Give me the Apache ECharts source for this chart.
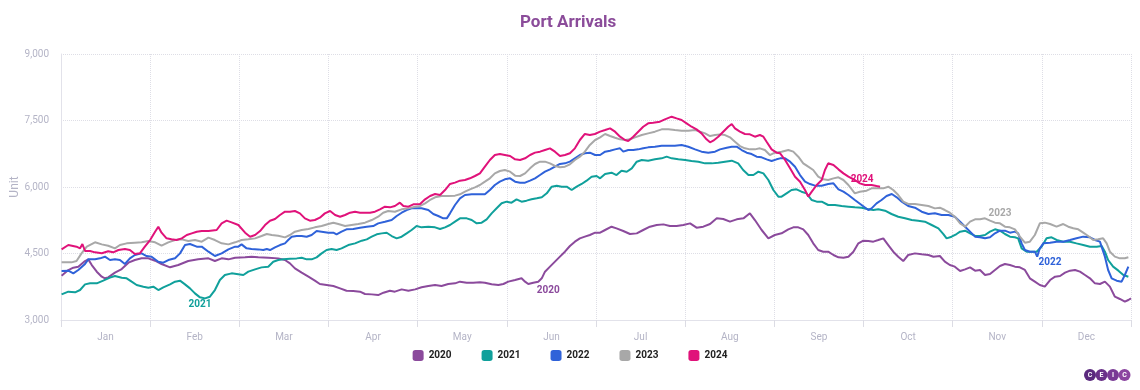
<!DOCTYPE html>
<html>
<head>
<meta charset="utf-8">
<script src="https://cdn.jsdelivr.net/npm/echarts@6/dist/echarts.min.js"></script>
<style>
  html, body { margin: 0; padding: 0; background: #ffffff; }
  #chart { width: 1140px; height: 390px; }
</style>
</head>
<body>
<div id="chart"></div>
<script>
// ---- DATA (day of year, value) ----
const months = ['Jan','Feb','Mar','Apr','May','Jun','Jul','Aug','Sep','Oct','Nov','Dec'];
const yTicks = { min: 3000, max: 9000, step: 1500 };
const seriesNames = ['2020','2021','2022','2023','2024'];

const y2020 = [[0.2,4000],[2.5,4127],[4.2,4180],[5.9,4202],[8.2,4330],[9.3,4368],[10.5,4240],[12.2,4090],[13.9,3977],[15,3940],[16.1,3962],[18.4,4067],[20.7,4150],[23,4293],[25.2,4353],[27.5,4391],[29.8,4391],[32.1,4338],[34.3,4263],[37.2,4188],[40,4240],[43.4,4330],[46.8,4368],[50.3,4391],[52.5,4330],[54.8,4391],[57.1,4368],[59.4,4406],
[62.8,4413],[65,4428],[67.3,4413],[70.7,4405],[74.1,4390],[76.4,4353],[78.1,4278],[79.8,4165],[82.1,4067],[84.4,3977],[86.6,3887],[88.3,3811],[90.6,3789],[92.9,3766],[95.2,3714],[97.4,3661],[99.7,3654],[102,3639],[103.7,3586],[106,3578],[108.2,3563],[110,3616],[112.2,3661],[113.9,3639],[116.2,3691],[118.5,3661],[120.8,3691],
[123,3737],[125.3,3767],[127.6,3790],[129.8,3767],[132.1,3812],[134.4,3827],[136.1,3865],[138.4,3842],[140.6,3842],[142.9,3850],[144.6,3842],[146.9,3805],[149.2,3790],[150.9,3812],[152.6,3865],[154.9,3902],[157.1,3940],[158.3,3865],[159.4,3812],[161.1,3842],[162.8,3865],[164,3940],[165.1,4090],[166.8,4203],[168.5,4316],[170.2,4429],[171.9,4541],[173.6,4669],[175.3,4767],[177,4842],[178.7,4880],[180.4,4917],[182.2,4970],
[183.9,4969],[185.6,5030],[187.8,5105],[189.5,5067],[191.8,5007],[194.1,4939],[196.4,4954],[198.6,5030],[200.9,5105],[203.2,5142],[205.5,5157],[207.7,5120],[210,5120],[212.3,5142],[214.6,5180],[216.8,5082],[219.1,5105],[221.4,5165],[223.7,5293],[225.9,5278],[228.2,5218],[230.5,5270],[232.8,5293],[235,5406],[236.7,5255],[239,5030],[241.3,4842],[243.5,4917],
[245.8,4955],[248.1,5045],[249.8,5090],[251.5,5090],[253.2,5045],[254.9,4917],[256.6,4729],[258.3,4579],[260,4541],[261.7,4541],[263.5,4466],[265.2,4413],[266.9,4406],[268.6,4428],[270.3,4541],[272,4729],[273.7,4789],[275.4,4782],[277.1,4767],[278.8,4804],[280.5,4842],[282.2,4691],[283.9,4541],[285.6,4428],[287.3,4330],[289,4466],[291.3,4503],[293.6,4481],[295.9,4466],[297.6,4428],[299.8,4443],[301.5,4315],[303.2,4240],[304.9,4203],[306.7,4105],
[308.4,4143],[310.1,4188],[311.8,4113],[313.5,4128],[315.2,4015],[316.9,4038],[318.6,4128],[320.3,4218],[322,4263],[323.7,4241],[325.4,4203],[327.1,4188],[328.8,4128],[330.5,3940],[332.2,3865],[333.9,3790],[335.6,3752],[337.4,3902],[339.1,3977],[340.8,3993],[342.5,4068],[344.2,4113],[345.9,4128],[347.6,4090],[349.3,4015],[351,3940],[352.7,3827],[354.4,3812],[356.1,3865],[357.8,3752],[359.5,3526],[361.2,3474],[362.9,3414],[364.1,3451],[365,3489]];

const y2021 = [[0.2,3579],[2.5,3639],[4.8,3624],[6.5,3676],[8.2,3804],[9.9,3827],[12.2,3827],[14.4,3887],[16.7,3955],[18.4,3992],[20.7,3955],[22.4,3940],[24.1,3864],[25.8,3789],[28.1,3752],[29.8,3729],[31.5,3752],[33.2,3676],[34.9,3737],[37.2,3804],[38.9,3864],[40.6,3887],[42.3,3804],[44,3714],[45.7,3601],[47.4,3511],[49.1,3488],[50.8,3526],[52.5,3676],[54.2,3902],[55.9,4015],[58.2,4052],[59.9,4037],
[62.2,4014],[63.9,4090],[66.2,4142],[68.4,4187],[70.7,4202],[72.4,4315],[74.1,4353],[75.8,4368],[78.1,4383],[80.4,4390],[82.1,4405],[83.8,4368],[85.5,4368],[87.2,4413],[88.9,4503],[90.6,4578],[92.3,4601],[94,4578],[95.7,4616],[98,4691],[100.3,4729],[102.6,4789],[104.3,4819],[106,4879],[107.7,4932],[109.4,4954],[111.1,4969],[112.8,4894],[114.5,4841],[116.2,4879],[117.9,4954],[119.6,5030],[121.3,5120],
[123,5090],[125.3,5105],[127.6,5090],[129.3,5053],[131,5090],[132.7,5143],[134.4,5218],[136.1,5293],[138.4,5293],[140.1,5256],[141.8,5180],[143.5,5195],[145.2,5271],[146.9,5406],[148.6,5519],[150.3,5632],[152,5669],[153.7,5647],[155.4,5722],[157.1,5669],[158.8,5692],[160.5,5722],[162.3,5744],[164,5767],[165.7,5857],[167.4,6008],[169.1,6030],[170.8,6008],[172.5,6008],[174.2,5932],[175.9,6008],[177.6,6068],[179.3,6143],[181,6233],[182.7,6248],
[183.9,6195],[185.6,6293],[187.8,6323],[189.5,6270],[191.2,6368],[193,6345],[194.7,6421],[196.4,6571],[198.1,6609],[200.3,6594],[202.6,6624],[204.9,6646],[206.6,6684],[208.3,6646],[210.6,6624],[212.9,6609],[215.1,6586],[217.4,6571],[219.7,6533],[222,6533],[224.2,6548],[226.5,6571],[228.8,6594],[231,6533],[232.7,6383],[234.5,6270],[236.2,6270],[237.9,6345],[239.6,6308],[241.3,6158],[243,5932],[244.7,5781],
[245.8,5782],[247.5,5857],[249.2,5932],[250.9,5947],[252.6,5894],[254.3,5857],[256.1,5706],[257.8,5669],[259.5,5669],[261.7,5594],[264,5594],[266.3,5571],[268.6,5556],[270.8,5541],[273.1,5533],[275.4,5496],[277.1,5481],[278.8,5496],[281.1,5466],[283.3,5391],[285.6,5330],[287.9,5293],[290.2,5255],[292.4,5240],[294.7,5218],[297,5143],[299.3,5067],[301,4939],[302.1,4842],[303.8,4879],[305.5,4939],
[306.7,4993],[308.4,5015],[310.1,4955],[311.8,4895],[313.5,4895],[315.2,4917],[316.9,4993],[318.6,5045],[320.3,5015],[322,4940],[323.7,4880],[325.4,4865],[326.5,4842],[327.7,4617],[329.4,4541],[331.1,4541],[332.8,4541],[334.5,4654],[336.2,4842],[337.9,4865],[339.6,4805],[341.9,4767],[344.2,4767],[346.4,4729],[348.7,4692],[351,4654],[353.3,4654],[355,4669],[356.1,4541],[357.2,4353],[358.9,4203],[360.7,4113],[362.4,4015],[364.1,3977]];

const y2022 = [[0.2,4105],[2.5,4112],[4.2,4052],[5.9,4127],[8.2,4263],[9.3,4368],[11.6,4368],[13.3,4391],[15,4428],[16.7,4353],[18.4,4368],[20.1,4353],[21.8,4263],[23.5,4391],[25.2,4466],[27.5,4503],[29.2,4443],[30.9,4428],[33.2,4315],[34.9,4293],[36.6,4353],[38.9,4391],[40.6,4503],[42.3,4691],[44,4714],[46.3,4654],[48,4654],[50.3,4541],[52.5,4443],[54.8,4503],[57.1,4594],[59.4,4654],
[60.5,4654],[61.6,4706],[63.3,4616],[65,4601],[67.3,4593],[69,4578],[70.2,4601],[71.3,4578],[73,4638],[74.7,4691],[76.4,4729],[77.5,4804],[78.7,4879],[80.4,4894],[82.1,4894],[83.8,4879],[85.5,4917],[87.2,5007],[88.9,4992],[91.2,4969],[92.9,4969],[94,4932],[95.7,4992],[97.4,5045],[99.7,5052],[102,5082],[104.3,5105],[106.5,5120],[108.2,5180],[110.5,5217],[112.8,5255],[114.5,5345],[116.2,5420],[117.9,5481],[119.6,5518],
[123,5519],[125.3,5481],[127,5391],[128.7,5346],[130.4,5293],[131.6,5293],[132.7,5406],[134.4,5594],[136.1,5744],[137.8,5820],[140.1,5835],[142.4,5835],[144.6,5835],[146.3,5932],[148,6045],[149.7,6120],[151.4,6173],[153.2,6196],[154.9,6120],[156.6,6098],[158.3,6098],[160,6143],[161.7,6196],[163.4,6271],[165.1,6346],[166.8,6399],[168.5,6459],[170.2,6519],[171.9,6534],[173.6,6572],[175.3,6647],[177,6722],[178.7,6760],[180.4,6775],[182.2,6722],
[183.9,6721],[185.6,6797],[187.3,6819],[189,6849],[190.7,6872],[191.8,6797],[193.5,6834],[195.2,6834],[196.9,6849],[198.6,6872],[200.3,6894],[202.6,6909],[204.9,6932],[207.2,6932],[209.4,6932],[211.7,6947],[214,6909],[216.3,6849],[218.5,6797],[220.8,6774],[223.1,6797],[224.8,6849],[227.1,6887],[228.8,6909],[230.5,6909],[232.2,6834],[233.9,6774],[235.6,6744],[237.3,6684],[239,6669],[240.7,6624],[242.4,6586],[244.1,6624],
[245.3,6646],[247,6646],[248.7,6571],[250.4,6458],[252.1,6270],[253.8,6120],[255.5,6067],[257.2,6030],[259.5,6030],[261.7,6067],[263.5,6082],[265.2,5947],[266.9,5894],[268.6,5819],[270.8,5706],[273.1,5594],[275.4,5481],[276.5,5518],[278.2,5631],[279.9,5706],[281.6,5797],[283.4,5842],[285.1,5767],[286.8,5669],[289,5571],[291.3,5533],[293.6,5443],[295.9,5391],[298.1,5406],[300.4,5368],[302.7,5368],[304.9,5330],
[306.7,5218],[308.4,5105],[310.1,4993],[311.8,4880],[313.5,4865],[315.2,4842],[316.9,4865],[318.6,4955],[320.3,5015],[322,5015],[323.7,4970],[325.4,4993],[326.5,4955],[327.7,4729],[328.8,4579],[330.5,4541],[332.2,4541],[333,4429],[333.9,4617],[335.1,4729],[337.4,4744],[339.6,4767],[341.9,4767],[344.2,4805],[346.4,4842],[348.7,4880],[351,4865],[352.7,4805],[354.4,4767],[356.1,4429],[357.2,4128],[358.4,3940],[360.1,3887],[361.8,3865],[362.9,4015],[364.1,4203]];

const y2023 = [[0.2,4300],[3.6,4300],[5.3,4330],[7,4503],[8.8,4654],[11.6,4752],[13.9,4706],[16.1,4676],[18.4,4616],[20.1,4691],[22.4,4729],[25.2,4744],[27.5,4752],[29.8,4782],[32.1,4752],[34.3,4676],[36.6,4752],[38.9,4804],[41.2,4819],[43.4,4782],[45.7,4804],[48,4767],[50.3,4857],[52.5,4804],[54.8,4729],[57.1,4706],[59.4,4752],
[61.6,4804],[63.9,4819],[66.2,4841],[68.4,4894],[70.2,4939],[71.9,4917],[74.1,4902],[76.4,4864],[78.1,4917],[79.8,4992],[82.1,5030],[84.4,5052],[86.6,5090],[88.9,5120],[91.2,5165],[92.9,5195],[94.6,5165],[96.9,5120],[99.1,5142],[101.4,5165],[103.7,5195],[106,5255],[108.2,5330],[109.9,5420],[111.6,5458],[113.9,5443],[116.2,5496],[118.5,5518],[120.8,5556],
[122.5,5572],[124.2,5632],[125.9,5707],[127.6,5767],[129.8,5797],[132.1,5797],[134.4,5805],[136.1,5835],[137.8,5895],[139.5,5947],[141.2,5993],[142.9,6045],[144.6,6120],[146.3,6196],[148,6308],[149.7,6361],[151.4,6384],[153.2,6346],[154.9,6256],[156.6,6248],[158.3,6308],[160,6421],[161.7,6519],[163.4,6572],[165.1,6572],[166.8,6534],[168.5,6474],[170.2,6444],[171.9,6459],[173.6,6511],[175.3,6609],[177,6684],[178.7,6797],[180.4,6948],[182.2,7060],
[183.9,7120],[185.6,7195],[187.3,7150],[189,7112],[190.7,7075],[192.4,7060],[194.1,7075],[195.8,7120],[198.1,7172],[200.3,7210],[202.6,7248],[204.9,7300],[207.2,7300],[209.4,7285],[211.7,7270],[214,7270],[216.3,7285],[218,7248],[219.7,7210],[221.4,7150],[223.1,7172],[224.8,7187],[226.5,7172],[228.2,7120],[229.9,7022],[231.6,6924],[233.3,6872],[235,6849],[236.7,6849],[238.4,6872],[240.1,6834],[241.8,6721],[243.5,6774],
[245.8,6797],[248.1,6834],[249.8,6797],[251.5,6684],[253.2,6534],[254.9,6458],[256.6,6383],[258.3,6233],[260,6173],[261.7,6158],[263.5,6195],[265.2,6218],[266.9,6158],[268.6,6045],[270.8,5857],[272.5,5894],[274.8,5917],[276.5,5970],[278.8,5970],[280.5,5970],[282.2,6007],[283.9,5932],[285.6,5819],[287.3,5669],[289,5616],[291.3,5616],[293.6,5594],[295.9,5571],[298.1,5518],[299.8,5533],[301.5,5481],[303.2,5421],[304.9,5330],
[306.7,5181],[308.4,5105],[310.1,5218],[311.8,5271],[313.5,5271],[315.2,5293],[316.9,5241],[318.6,5196],[320.3,5181],[322,5105],[323.7,5090],[325.4,5045],[327.1,4880],[328.8,4744],[330.5,4767],[332.2,4917],[333.9,5181],[335.6,5196],[337.4,5165],[339.6,5105],[341.9,5165],[343.6,5105],[345.3,5068],[347,5045],[348.7,4970],[350.4,4895],[352.1,4805],[353.8,4820],[355.5,4842],[356.7,4729],[357.8,4541],[359.5,4429],[361.2,4391],[362.9,4391],[364.1,4414]];

const y2024 = [[0.2,4594],[2.5,4692],[5.3,4654],[6.5,4617],[7.3,4714],[8.2,4556],[9.9,4556],[11.6,4526],[13.9,4504],[16.1,4549],[17.8,4526],[19.6,4579],[21.8,4601],[23.5,4579],[25.2,4489],[26.9,4504],[28.6,4654],[30.4,4804],[32.1,4992],[33.2,5105],[34.3,4970],[36,4842],[37.7,4820],[39.4,4804],[41.2,4842],[42.9,4917],[44.6,4955],[46.3,4992],[48,5007],[50.3,5007],[53.1,5030],[54.8,5180],[56.5,5241],[58.2,5203],[60.5,5143],
[61.1,5120],[62.8,4969],[64.5,4879],[66.2,4917],[67.9,5007],[69.6,5142],[71.3,5240],[73,5278],[74.7,5368],[76.4,5443],[78.1,5443],[79.8,5458],[81.5,5405],[83.2,5293],[84.9,5240],[86.6,5255],[88.3,5308],[90,5405],[91.8,5458],[93.5,5368],[95.2,5330],[96.9,5368],[98.6,5420],[100.3,5443],[102,5420],[103.7,5420],[105.4,5420],[107.1,5443],[108.8,5496],[110.5,5556],[112.2,5541],[113.9,5571],[115.6,5646],[116.8,5571],[118.5,5556],[120.2,5609],
[122.5,5617],[124.2,5722],[125.9,5797],[127.6,5842],[129.3,5820],[131,5932],[132.7,6068],[134.4,6098],[136.1,6143],[137.8,6158],[139.5,6196],[141.2,6248],[142.9,6308],[144.6,6459],[146.3,6609],[148,6722],[149.7,6744],[151.4,6722],[153.2,6699],[154.9,6624],[156.6,6609],[158.3,6647],[160,6722],[161.7,6775],[163.4,6797],[165.1,6835],[166.8,6872],[168.5,6797],[170.2,6699],[171.9,6722],[173.6,6760],[175.3,6872],[177,7060],[178.7,7196],[180.4,7173],[182.1,7196],[183.9,7248],
[185.6,7285],[187.3,7323],[189,7248],[190.7,7135],[192.4,7060],[193.5,7037],[195.2,7135],[196.9,7248],[198.6,7360],[200.3,7436],[202,7451],[204.3,7473],[206,7526],[208.3,7586],[210,7548],[211.7,7511],[213.4,7436],[215.1,7360],[216.8,7300],[218.5,7210],[220.2,7075],[221.4,7007],[222.5,7045],[224.2,7135],[225.9,7248],[227.6,7360],[228.8,7421],[229.9,7323],[231.6,7248],[233.3,7195],[235,7188],[236.7,7135],[238.4,7173],[239.6,7135],[240.7,7022],[242.4,6849],[244.1,6774],
[245.3,6759],[247,6609],[248.7,6421],[250.4,6233],[252.1,6120],[253.8,5932],[254.9,5782],[256.1,5894],[257.8,6045],[259.5,6158],[260.6,6383],[261.7,6534],[263.5,6496],[265.2,6398],[266.9,6308],[268.6,6233],[270.8,6158],[272.5,6082],[274.3,6045],[276.5,6045],[278.2,6022],[279.4,6007]];

// inline label anchors: series name and the day of year it sits at
const lineLabels = [
  { name: '2021', day: 47.4, pos: 'bottom', dist: 2, off: [0, 0] },
  { name: '2020', day: 162.8, pos: 'bottom', dist: 4, off: [10, 0] },
  { name: '2024', day: 274.3, pos: 'top', dist: 0, off: [-3, 0] },
  { name: '2023', day: 320.3, pos: 'top', dist: 5, off: [0, 0] },
  { name: '2022', day: 337.4, pos: 'bottom', dist: 15, off: [0, 0] }
];

const colors = { '2020': '#8B4A9C', '2021': '#10A09B', '2022': '#2F62D9', '2023': '#A8A8A8', '2024': '#E0127A' };
const dataBy = { '2020': y2020, '2021': y2021, '2022': y2022, '2023': y2023, '2024': y2024 };
const FONT = 'Roboto, "Noto Sans", sans-serif';

function markFor(name) {
  const lab = lineLabels.find(l => l.name === name);
  if (!lab) return undefined;
  const pt = dataBy[name].find(p => p[0] === lab.day);
  return {
    silent: true, animation: false,
    data: [{
      coord: pt, symbol: 'circle', symbolSize: 0.1,
      itemStyle: { color: 'transparent' },
      label: {
        show: true, position: lab.pos, distance: lab.dist, offset: lab.off,
        formatter: name, color: colors[name], fontWeight: 'bold', fontSize: 10, fontFamily: FONT
      }
    }]
  };
}

const chart = echarts.init(document.getElementById('chart'), null, { renderer: 'canvas' });
const axisGray = '#b4b4c6';
const gridColor = '#dedee6';

chart.setOption({
  backgroundColor: '#ffffff',
  animation: false,
  title: {
    text: 'Port Arrivals', left: 515, top: 9,
    textStyle: { color: '#8B4C9A', fontSize: 17, fontWeight: 'bold', fontFamily: FONT }
  },
  legend: {
    bottom: 24, left: 'center', itemWidth: 11, itemHeight: 11, itemGap: 30, icon: 'roundRect',
    data: seriesNames,
    textStyle: { color: '#222', fontSize: 10, fontWeight: 'bold', fontFamily: FONT }
  },
  grid: { left: 61, right: 9, top: 54, bottom: 70, containLabel: false, outerBoundsMode: 'none' },
  xAxis: [
    {
      type: 'value', min: 0, max: 365, interval: 365 / 12,
      axisLine: { show: true, lineStyle: { color: '#e2e2ea' } },
      axisTick: { show: true, length: 7, lineStyle: { color: '#dcdce4' } },
      axisLabel: { show: false },
      splitLine: { show: true, lineStyle: { color: gridColor, type: 'dotted' } }
    },
    {
      type: 'category', data: months, boundaryGap: true, position: 'bottom',
      axisLine: { show: false }, axisTick: { show: false },
      axisLabel: { color: axisGray, fontSize: 10, margin: 12, fontFamily: FONT },
      splitLine: { show: false }
    }
  ],
  yAxis: {
    type: 'value', min: yTicks.min, max: yTicks.max, interval: yTicks.step,
    name: 'Unit', nameLocation: 'middle', nameGap: 40, nameMoveOverlap: false,
    nameTextStyle: { color: axisGray, fontSize: 12, fontFamily: FONT },
    axisLine: { show: true, lineStyle: { color: '#e2e2ea' } },
    axisTick: { show: false },
    axisLabel: {
      color: axisGray, fontSize: 10, margin: 12, fontFamily: FONT,
      formatter: v => v.toLocaleString('en-US')
    },
    splitLine: { show: true, lineStyle: { color: gridColor, type: 'dotted' } }
  },
  series: seriesNames.map(n => ({
    name: n, type: 'line', xAxisIndex: 0, data: dataBy[n],
    showSymbol: false, symbol: 'none', smooth: false,
    color: colors[n],
    lineStyle: { width: 2, color: colors[n] },
    emphasis: { disabled: true },
    markPoint: markFor(n)
  })),
  graphic: [
    { type: 'circle', shape: { cx: 1090, cy: 375, r: 6 }, style: { fill: '#5B2A7E' } },
    { type: 'circle', shape: { cx: 1101.5, cy: 375, r: 6 }, style: { fill: '#6A3189' } },
    { type: 'circle', shape: { cx: 1113, cy: 375, r: 6 }, style: { fill: '#793A95' } },
    { type: 'circle', shape: { cx: 1124.5, cy: 375, r: 6 }, style: { fill: '#8B45A0' } },
    { type: 'text', style: { x: 1090, y: 375, text: 'C', fill: '#fff', font: 'bold 7px Roboto, sans-serif', textAlign: 'center', textVerticalAlign: 'middle' } },
    { type: 'text', style: { x: 1101.5, y: 375, text: 'E', fill: '#fff', font: 'bold 7px Roboto, sans-serif', textAlign: 'center', textVerticalAlign: 'middle' } },
    { type: 'text', style: { x: 1113, y: 375, text: 'I', fill: '#fff', font: 'bold 7px Roboto, sans-serif', textAlign: 'center', textVerticalAlign: 'middle' } },
    { type: 'text', style: { x: 1124.5, y: 375, text: 'C', fill: '#fff', font: 'bold 7px Roboto, sans-serif', textAlign: 'center', textVerticalAlign: 'middle' } }
  ]
});
</script>
</body>
</html>
